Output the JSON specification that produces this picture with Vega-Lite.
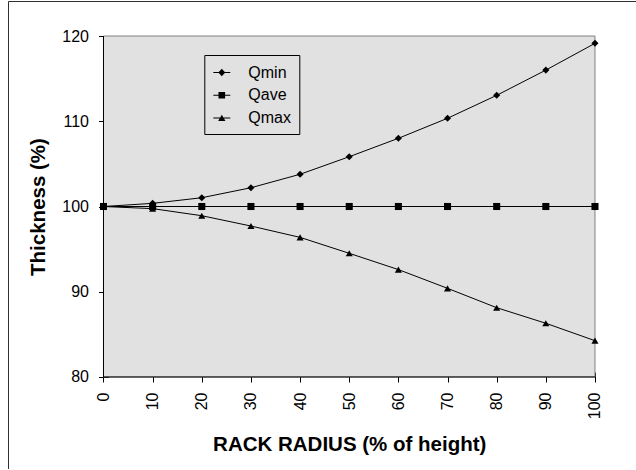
{
  "$schema": "https://vega.github.io/schema/vega-lite/v6.json",
  "width": 629,
  "height": 468,
  "autosize": {"type": "none"},
  "padding": {"left": 8, "top": 1, "right": 0, "bottom": 0},
  "background": "white",
  "config": {
    "view": {"stroke": "#303030", "strokeWidth": 1, "fill": "white"},
    "font": "Liberation Sans",
    "axis": {
      "grid": false,
      "domain": false,
      "tickColor": "black",
      "tickWidth": 1,
      "tickSize": 10,
      "labelFont": "Liberation Sans",
      "labelFontSize": 16,
      "labelColor": "black",
      "labelPadding": 10,
      "titleFont": "Liberation Sans",
      "titleFontSize": 20.5,
      "titleFontWeight": "bold",
      "titleColor": "black"
    }
  },
  "data": {
    "values": [
      {"r": 0, "series": "Qmin", "t": 100},
      {"r": 10, "series": "Qmin", "t": 100.37},
      {"r": 20, "series": "Qmin", "t": 101.03},
      {"r": 30, "series": "Qmin", "t": 102.2},
      {"r": 40, "series": "Qmin", "t": 103.78},
      {"r": 50, "series": "Qmin", "t": 105.84},
      {"r": 60, "series": "Qmin", "t": 108.0},
      {"r": 70, "series": "Qmin", "t": 110.35},
      {"r": 80, "series": "Qmin", "t": 113.04},
      {"r": 90, "series": "Qmin", "t": 116.0},
      {"r": 100, "series": "Qmin", "t": 119.14},
      {"r": 0, "series": "Qave", "t": 100},
      {"r": 10, "series": "Qave", "t": 100},
      {"r": 20, "series": "Qave", "t": 100},
      {"r": 30, "series": "Qave", "t": 100},
      {"r": 40, "series": "Qave", "t": 100},
      {"r": 50, "series": "Qave", "t": 100},
      {"r": 60, "series": "Qave", "t": 100},
      {"r": 70, "series": "Qave", "t": 100},
      {"r": 80, "series": "Qave", "t": 100},
      {"r": 90, "series": "Qave", "t": 100},
      {"r": 100, "series": "Qave", "t": 100},
      {"r": 0, "series": "Qmax", "t": 100},
      {"r": 10, "series": "Qmax", "t": 99.75},
      {"r": 20, "series": "Qmax", "t": 98.92},
      {"r": 30, "series": "Qmax", "t": 97.71},
      {"r": 40, "series": "Qmax", "t": 96.38},
      {"r": 50, "series": "Qmax", "t": 94.51},
      {"r": 60, "series": "Qmax", "t": 92.6},
      {"r": 70, "series": "Qmax", "t": 90.4},
      {"r": 80, "series": "Qmax", "t": 88.13},
      {"r": 90, "series": "Qmax", "t": 86.3},
      {"r": 100, "series": "Qmax", "t": 84.26}
    ]
  },
  "layer": [
    {
      "data": {"values": [{}]},
      "mark": {"type": "rect", "fill": "#e1e1e1", "stroke": "#808080", "strokeWidth": 1},
      "encoding": {
        "x": {
          "datum": 0,
          "type": "quantitative",
          "scale": {"domain": [-19.43, 108.55], "nice": false, "zero": false},
          "axis": {
            "orient": "bottom",
            "offset": -97,
            "values": [0, 10, 20, 30, 40, 50, 60, 70, 80, 90, 100],
            "labelAngle": 270,
            "labelAlign": "right",
            "labelBaseline": "middle",
            "title": "RACK RADIUS (% of height)",
            "titleX": 341.25,
            "titleY": 78,
            "titleAlign": "center",
            "titleBaseline": "alphabetic"
          }
        },
        "x2": {"datum": 100},
        "y": {
          "datum": 80,
          "type": "quantitative",
          "scale": {"domain": [69.208, 124.106], "nice": false, "zero": false},
          "axis": {
            "orient": "left",
            "offset": -100.5,
            "values": [80, 90, 100, 110, 120],
            "labelBaseline": "middle",
            "title": "Thickness (%)",
            "titleAngle": 270,
            "titleX": -64.5,
            "titleY": 205.5,
            "titleAlign": "center",
            "titleBaseline": "alphabetic"
          }
        },
        "y2": {"datum": 120}
      }
    },
    {
      "data": {"values": [{}]},
      "mark": {"type": "rule", "color": "black", "strokeWidth": 1},
      "encoding": {
        "x": {"datum": 0, "type": "quantitative"},
        "x2": {"datum": 100},
        "y": {"datum": 80, "type": "quantitative"}
      }
    },
    {
      "data": {"values": [{}]},
      "mark": {"type": "rule", "color": "black", "strokeWidth": 1},
      "encoding": {
        "x": {"datum": 0, "type": "quantitative"},
        "y": {"datum": 80, "type": "quantitative"},
        "y2": {"datum": 120}
      }
    },
    {
      "mark": {"type": "line", "color": "black", "strokeWidth": 1},
      "encoding": {
        "x": {"field": "r", "type": "quantitative"},
        "y": {"field": "t", "type": "quantitative"},
        "detail": {"field": "series"}
      }
    },
    {
      "mark": {"type": "point", "filled": true, "color": "black", "opacity": 1, "size": 50},
      "encoding": {
        "x": {"field": "r", "type": "quantitative"},
        "y": {"field": "t", "type": "quantitative"},
        "shape": {
          "field": "series",
          "type": "nominal",
          "scale": {
            "domain": ["Qmin", "Qave", "Qmax"],
            "range": ["diamond", "square", "triangle-up"]
          },
          "legend": null
        }
      }
    },
    {
      "transform": [{"filter": "false"}],
      "mark": {"type": "point", "filled": true, "color": "black", "opacity": 1, "size": 289},
      "encoding": {
        "x": {"field": "r", "type": "quantitative"},
        "y": {"field": "t", "type": "quantitative"},
        "shape": {
          "field": "series",
          "type": "nominal",
          "scale": {
            "domain": ["Qmin", "Qave", "Qmax"],
            "range": [
              "M-1,-0.06L1,-0.06L1,0.06L-1,0.06ZM0,-0.43L0.41,0L0,0.43L-0.41,0Z",
              "M-1,-0.06L1,-0.06L1,0.06L-1,0.06ZM-0.39,-0.39L0.39,-0.39L0.39,0.39L-0.39,0.39Z",
              "M-1,-0.06L1,-0.06L1,0.06L-1,0.06ZM0,-0.37L0.43,0.37L-0.43,0.37Z"
            ]
          },
          "legend": {
            "title": null,
            "orient": "none",
            "legendX": 196.3,
            "legendY": 54,
            "padding": 8,
            "strokeColor": "black",
            "fillColor": null,
            "labelFont": "Liberation Sans",
            "labelFontSize": 16,
            "labelColor": "black",
            "labelOffset": 17,
            "rowPadding": 4.7,
            "symbolSize": 289,
            "symbolFillColor": "black",
            "symbolOpacity": 1
          }
        }
      }
    }
  ],
  "resolve": {"scale": {"shape": "independent"}, "legend": {"shape": "independent"}}
}
